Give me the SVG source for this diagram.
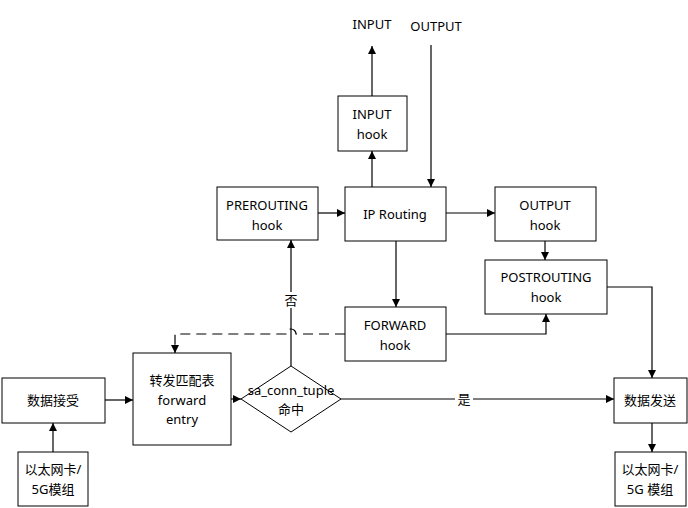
<svg xmlns="http://www.w3.org/2000/svg" width="688" height="508" viewBox="0 0 688 508">
<defs>
<marker id="a" viewBox="0 0 10 10" refX="10" refY="5" markerWidth="8" markerHeight="8" orient="auto-start-reverse" markerUnits="userSpaceOnUse"><path d="M0,0 L10,5 L0,10 Z" fill="#000"/></marker>
<style>
.b{fill:#fff;stroke:#000;stroke-width:1}
.t{font-family:"Noto Sans","Noto Sans CJK SC",sans-serif;font-size:13px;fill:#000;text-anchor:middle}
.c{fill:none;stroke:#000;stroke-width:1.2}
</style>
</defs>
<rect width="688" height="508" fill="#fff"/>
<g id="connectors">
<path class="c" d="M372,96 V46" marker-end="url(#a)"/>
<path class="c" d="M372,187 V151" marker-end="url(#a)"/>
<path class="c" d="M431,45 V187" marker-end="url(#a)"/>
<path class="c" d="M318,213 H345" marker-end="url(#a)"/>
<path class="c" d="M446,213 H495" marker-end="url(#a)"/>
<path class="c" d="M545,241 V260" marker-end="url(#a)"/>
<path class="c" d="M396,241 V307" marker-end="url(#a)"/>
<path class="c" d="M446,334 H546 V314" marker-end="url(#a)"/>
<path class="c" d="M607,287 H652 V378" marker-end="url(#a)"/>
<path class="c" d="M652,423 V452" marker-end="url(#a)"/>
<path class="c" d="M53,452 V423" marker-end="url(#a)"/>
<path class="c" d="M105,400 H133" marker-end="url(#a)"/>
<path class="c" d="M231,399 H241" marker-end="url(#a)"/>
<path class="c" d="M341,399 H614" marker-end="url(#a)"/>
<path class="c" d="M291,366 V240" marker-end="url(#a)"/>
<path class="c" d="M345,334 H296 A5,5 0 0 0 286,334 H175 V353" stroke-dasharray="10,6" marker-end="url(#a)"/>
<rect x="282" y="292" width="18" height="16" fill="#fff"/>
<text class="t" x="291" y="305">否</text>
<rect x="455" y="391" width="18" height="16" fill="#fff"/>
<text class="t" x="464" y="404">是</text>
</g>
<g id="input-label"><text class="t" x="372" y="29">INPUT</text></g>
<g id="output-label"><text class="t" x="436" y="31">OUTPUT</text></g>
<g id="input-hook"><rect class="b" x="338" y="96" width="69" height="55"/><text class="t" x="372" y="119">INPUT</text><text class="t" x="372" y="139">hook</text></g>
<g id="prerouting"><rect class="b" x="217" y="187" width="101" height="53"/><text class="t" x="267" y="210">PREROUTING</text><text class="t" x="267" y="230">hook</text></g>
<g id="ip-routing"><rect class="b" x="345" y="187" width="101" height="54"/><text class="t" x="395" y="219">IP Routing</text></g>
<g id="output-hook"><rect class="b" x="495" y="187" width="101" height="54"/><text class="t" x="545" y="210">OUTPUT</text><text class="t" x="545" y="230">hook</text></g>
<g id="postrouting"><rect class="b" x="485" y="260" width="122" height="54"/><text class="t" x="546" y="282">POSTROUTING</text><text class="t" x="546" y="302">hook</text></g>
<g id="forward"><rect class="b" x="345" y="307" width="101" height="54"/><text class="t" x="395" y="330">FORWARD</text><text class="t" x="395" y="350">hook</text></g>
<g id="recv"><rect class="b" x="2" y="378" width="103" height="45"/><text class="t" x="53" y="405">数据接受</text></g>
<g id="nic-in"><rect class="b" x="18" y="452" width="70" height="54"/><text class="t" x="53" y="474">以太网卡/</text><text class="t" x="53" y="494">5G模组</text></g>
<g id="fwd-table"><rect class="b" x="133" y="353" width="98" height="92"/><text class="t" x="182" y="385">转发匹配表</text><text class="t" x="182" y="405">forward</text><text class="t" x="182" y="424">entry</text></g>
<g id="decision"><path class="b" d="M291,366 L341,399 L291,432 L241,399 Z"/><text class="t" x="291" y="395">sa_conn_tuple</text><text class="t" x="291" y="414">命中</text></g>
<g id="send"><rect class="b" x="614" y="378" width="73" height="45"/><text class="t" x="650" y="405">数据发送</text></g>
<g id="nic-out"><rect class="b" x="615" y="452" width="71" height="54"/><text class="t" x="650" y="474">以太网卡/</text><text class="t" x="650" y="494">5G 模组</text></g>
</svg>
